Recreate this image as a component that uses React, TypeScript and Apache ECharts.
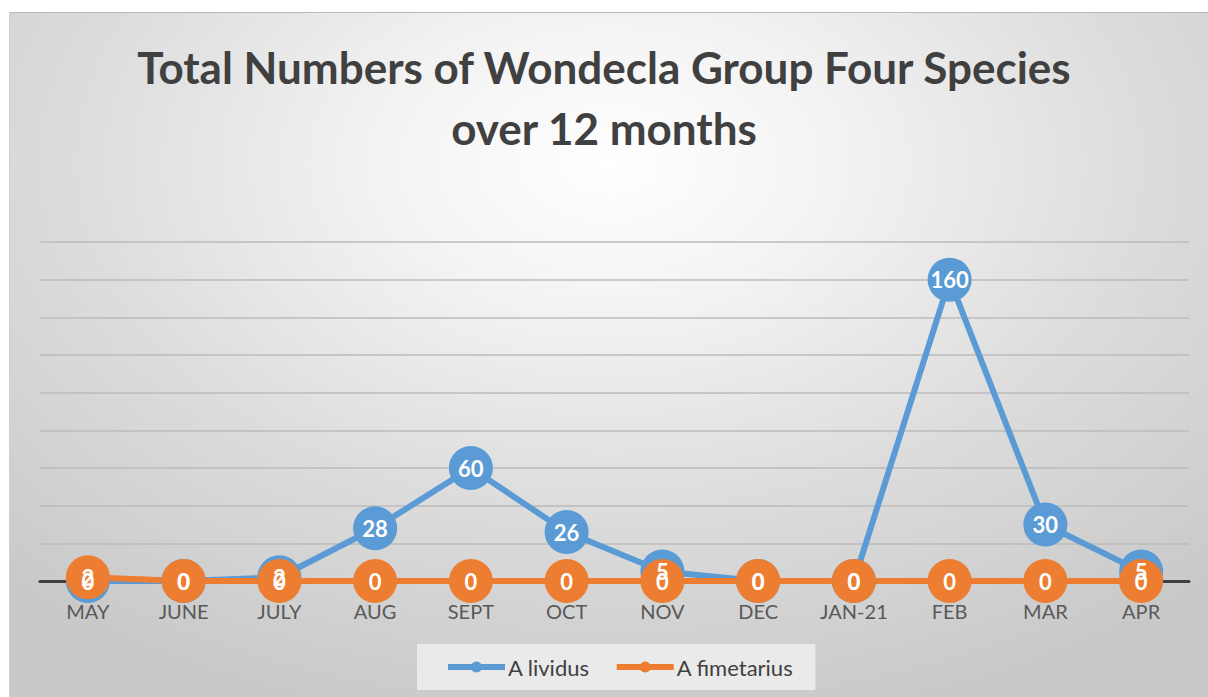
import React, { useEffect, useRef } from "react";
import * as echarts from "echarts";

const categories = ["MAY", "JUNE", "JULY", "AUG", "SEPT", "OCT", "NOV", "DEC", "JAN-21", "FEB", "MAR", "APR"];
const lividus = [0, 0, 2, 28, 60, 26, 5, 0, 0, 160, 30, 5];
const fimetarius = [2, 0, 0, 0, 0, 0, 0, 0, 0, 0, 0, 0];
const seriesNames = ["A lividus", "A fimetarius"];
const titleText = "Total Numbers of Wondecla Group Four Species\nover 12 months";

export default function App() {
  const ref = useRef<HTMLDivElement>(null);
  useEffect(() => {
    if (!ref.current) return;
    const chart = echarts.init(ref.current, null, { renderer: "svg" });
    const font = "Lato, 'Open Sans', sans-serif";
    const mkSeries = (name: string, data: number[], color: string) => ({
      name,
      type: "line",
      data,
      symbol: "circle",
      symbolSize: 44,
      lineStyle: { color, width: 6 },
      itemStyle: { color },
      label: {
        show: true,
        position: "inside",
        color: "#ffffff",
        fontWeight: "bold",
        fontSize: 22,
        fontFamily: font,
      },
    });
    chart.setOption({
      animation: false,
      title: {
        text: titleText,
        left: "center",
        top: 31,
        textStyle: {
          fontFamily: font,
          fontWeight: "bold",
          fontSize: 44,
          lineHeight: 61,
          color: "#404040",
        },
      },
      legend: {
        left: 417,
        top: 644,
        padding: [12, 22, 12, 28],
        backgroundColor: "rgba(238,238,238,0.85)",
        itemWidth: 57,
        itemHeight: 14,
        itemGap: 24,
        data: seriesNames,
        lineStyle: { width: 6 },
        textStyle: { fontFamily: font, fontSize: 22, color: "#404040", lineHeight: 21, padding: [0, 0, 0, -2] },
      },
      grid: { left: 40, right: 19, top: 242, bottom: 116 },
      xAxis: {
        type: "category",
        data: categories,
        boundaryGap: true,
        axisLine: { lineStyle: { color: "#404040", width: 3 } },
        axisTick: { show: false },
        axisLabel: { fontFamily: font, fontSize: 20, color: "#595959", margin: 20 },
        z: 0,
      },
      yAxis: {
        type: "value",
        min: 0,
        max: 180,
        interval: 20,
        axisLine: { show: false },
        axisTick: { show: false },
        axisLabel: { show: false },
        splitLine: { lineStyle: { color: "#bbbbbb", width: 1.5 } },
      },
      series: [
        mkSeries(seriesNames[0], lividus, "#5b9bd5"),
        mkSeries(seriesNames[1], fimetarius, "#ed7d31"),
      ],
    });
    return () => chart.dispose();
  }, []);
  return (
    <div style={{ position: "absolute", left: 0, top: 0, width: 1208, height: 697, background: "#ffffff", overflow: "hidden" }}>
      <div
        style={{
          position: "absolute",
          left: 9,
          top: 12,
          right: 0,
          bottom: 0,
          borderTop: "1px solid #b8b8b8",
          borderLeft: "1px solid #d0d0d0",
          background: "radial-gradient(ellipse 75% 85% at 50% 22%, #ffffff 0%, #f3f3f3 25%, #dcdcdc 60%, #c8c8c8 100%)",
        }}
      />
      <div ref={ref} style={{ position: "absolute", left: 0, top: 0, width: 1208, height: 697 }} />
    </div>
  );
}
